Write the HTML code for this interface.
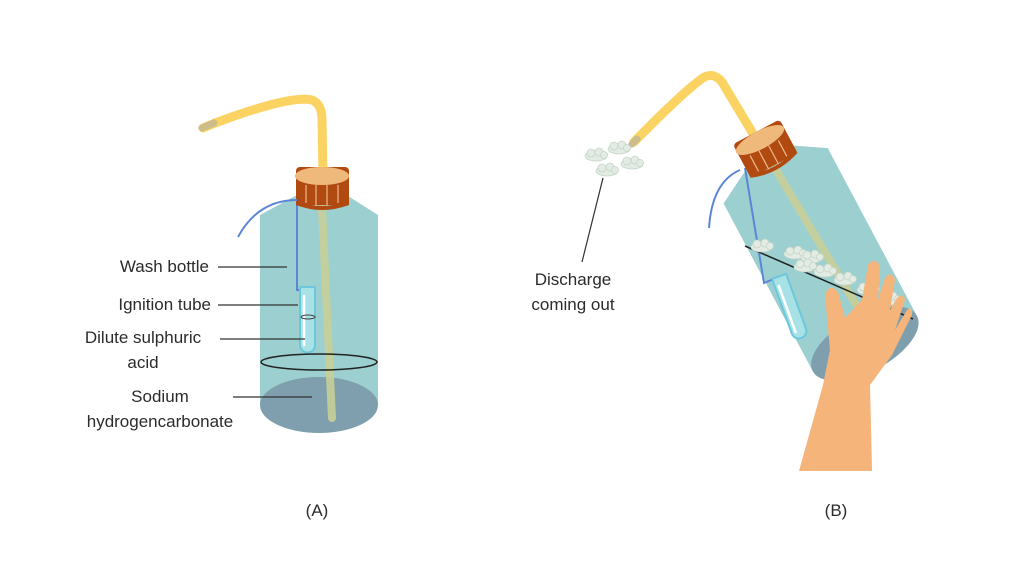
<!DOCTYPE html>
<html><head><meta charset="utf-8"><style>
html,body{margin:0;padding:0;background:#fff;}
svg{display:block;}
text{font-family:"Liberation Sans",sans-serif;font-size:17px;fill:#2b2b2b;}
</style></head><body>
<svg width="1024" height="576" viewBox="0 0 1024 576" xmlns="http://www.w3.org/2000/svg">
<defs>
<g id="body">
  <path d="M260,215 L295,196 L348,196 L378,215 L378,405 L260,405 Z" fill="#9ccfcf"/>
  <ellipse cx="319" cy="405" rx="59" ry="28" fill="#7f9fae"/>
  <line x1="322" y1="208" x2="332" y2="418" stroke="#c8cf98" stroke-width="8" stroke-linecap="round" opacity="0.9"/>
</g>
<g id="cap">
  <rect x="296" y="167" width="53" height="38" rx="4" fill="#b04a10"/>
  <path d="M296,200 Q322,212 349,200 L349,205 Q322,215 296,205Z" fill="#b04a10"/>
  <g stroke="#f0b98a" stroke-width="1.2"><line x1="306" y1="185" x2="306" y2="203"/><line x1="316" y1="185" x2="316" y2="206"/><line x1="327" y1="185" x2="327" y2="206"/><line x1="338" y1="185" x2="338" y2="203"/></g>
  <ellipse cx="322" cy="176" rx="27" ry="9" fill="#f0b97c"/>
</g>
<g id="tube">
  <path d="M0,0 L15,0 L15,58 A7.5,7.5 0 0 1 0,58 Z" fill="#a9e2e6" stroke="#6cc7dc" stroke-width="2"/>
  <line x1="4" y1="9" x2="4" y2="58" stroke="#fff" stroke-width="2.5" stroke-linecap="round"/>
</g>
<g id="cloud" fill="#e3ece4" stroke="#c5d4c8" stroke-width="0.8">
  <ellipse cx="0" cy="0" rx="11" ry="5"/><circle cx="-5" cy="-3" r="4"/><circle cx="3" cy="-4" r="4"/><circle cx="8" cy="-1" r="3.5"/>
</g>
</defs>

<!-- Bottle A -->
<path d="M203,128 L215,123 Q290,95 312,100 Q322,104 322,120 L323,175" fill="none" stroke="#fbd362" stroke-width="9" stroke-linecap="round"/>
<path d="M202,128 L214,123" stroke="#cdbd8a" stroke-width="7" stroke-linecap="round"/>
<use href="#body"/>
<path d="M297,200 L297,290 L316,290" fill="none" stroke="#5b86d6" stroke-width="2"/>
<use href="#tube" x="300" y="287"/>
<use href="#cap"/>
<path d="M297,200 Q258,200 238,237" fill="none" stroke="#5b86d6" stroke-width="2"/>
<ellipse cx="319" cy="362" rx="58" ry="8" fill="none" stroke="#222" stroke-width="1.5"/>
<ellipse cx="308" cy="317" rx="7" ry="2" fill="none" stroke="#444" stroke-width="1"/>

<g stroke="#333" stroke-width="1.2">
<line x1="218" y1="267" x2="287" y2="267"/>
<line x1="218" y1="305" x2="298" y2="305"/>
<line x1="220" y1="339" x2="305" y2="339"/>
<line x1="233" y1="397" x2="312" y2="397"/>
</g>
<text x="209" y="272" text-anchor="end">Wash bottle</text>
<text x="211" y="310" text-anchor="end">Ignition tube</text>
<text x="143" y="343" text-anchor="middle">Dilute sulphuric</text>
<text x="143" y="368" text-anchor="middle">acid</text>
<text x="160" y="402" text-anchor="middle">Sodium</text>
<text x="160" y="427" text-anchor="middle">hydrogencarbonate</text>
<text x="317" y="516" text-anchor="middle">(A)</text>

<!-- Bottle B -->
<path d="M634,142 Q680,95 700,80 Q712,70 722,82 L752,132" fill="none" stroke="#fbd362" stroke-width="9" stroke-linecap="round"/>
<path d="M632,144 L637,139" stroke="#cdbd8a" stroke-width="7" stroke-linecap="round"/>
<g transform="translate(760,140) rotate(-28) translate(-322,-176)">
  <use href="#body"/>
</g>
<path d="M745,168 L764,283 L776,278" fill="none" stroke="#5b86d6" stroke-width="2"/>
<g transform="translate(772,279) rotate(-20)"><use href="#tube"/></g>
<g transform="translate(760,140) rotate(-28) translate(-322,-176)">
  <use href="#cap"/>
</g>
<path d="M740,170 Q712,182 709,228" fill="none" stroke="#5b86d6" stroke-width="2"/>
<line x1="745" y1="246" x2="913" y2="319" stroke="#222" stroke-width="1.5"/>
<use href="#cloud" x="762" y="247"/><use href="#cloud" x="795" y="254"/><use href="#cloud" x="812" y="258"/>
<use href="#cloud" x="805" y="267"/><use href="#cloud" x="825" y="272"/><use href="#cloud" x="845" y="280"/>
<use href="#cloud" x="868" y="290"/><use href="#cloud" x="890" y="300"/>
<use href="#cloud" x="596" y="156"/><use href="#cloud" x="619" y="149"/><use href="#cloud" x="632" y="164"/><use href="#cloud" x="607" y="171"/>
<path d="M799,471 L823,385 L830,350 L825,295 Q830,282 838,292 L845,318 L862,300 L868,265 Q875,256 880,266 L878,300 L885,278 Q892,270 895,280 L890,310 L897,298 Q903,292 905,300 L895,330 L907,310 Q913,305 912,315 L892,355 L870,385 L872,471 Z" fill="#f5b47a"/>
<line x1="603" y1="178" x2="582" y2="262" stroke="#333" stroke-width="1.2"/>
<text x="573" y="285" text-anchor="middle">Discharge</text>
<text x="573" y="310" text-anchor="middle">coming out</text>
<text x="836" y="516" text-anchor="middle">(B)</text>
</svg>
</body></html>
